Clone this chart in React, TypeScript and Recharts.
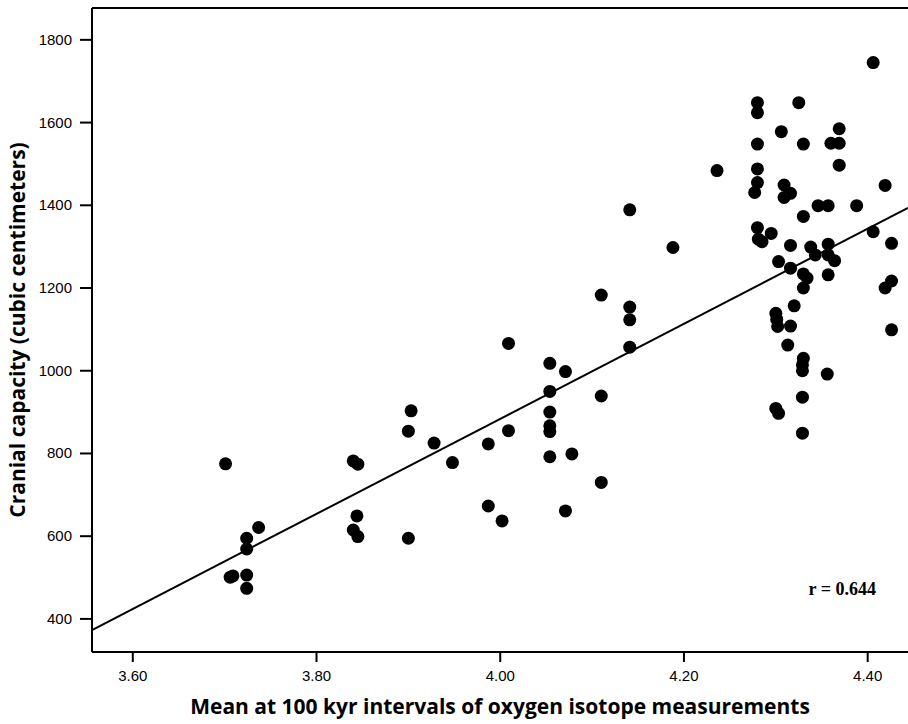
import React from "react";
import {
  ScatterChart,
  Scatter,
  XAxis,
  YAxis,
  ReferenceLine,
} from "recharts";

// mean oxygen isotope value (x) and cranial capacity (y)
const isotope = [
  3.701, 3.706, 3.709, 3.724, 3.724, 3.724, 3.724, 3.737, 3.84, 3.845,
  3.844, 3.84, 3.845, 3.9, 3.903, 3.9, 3.928, 3.948, 3.987, 3.987,
  4.002, 4.009, 4.009, 4.054, 4.054, 4.054, 4.054, 4.054, 4.054, 4.071,
  4.071, 4.078, 4.11, 4.11, 4.11, 4.141, 4.141, 4.141, 4.141, 4.188,
  4.236,
  4.28, 4.28, 4.28, 4.28, 4.28, 4.277, 4.28, 4.281, 4.285, 4.295,
  4.3, 4.301, 4.302, 4.3, 4.303, 4.303, 4.306, 4.309, 4.309, 4.313,
  4.316, 4.316, 4.316, 4.316, 4.32, 4.325, 4.33, 4.33, 4.33, 4.334,
  4.33, 4.33, 4.329, 4.329, 4.329, 4.329, 4.338, 4.343, 4.346, 4.356,
  4.357, 4.357, 4.357, 4.357, 4.36, 4.364, 4.369, 4.369, 4.369, 4.388,
  4.406, 4.406, 4.419, 4.419, 4.426, 4.426, 4.426,
];

const capacity = [
  775, 501, 504, 595, 569, 506, 474, 621, 782, 774,
  649, 615, 599, 595, 903, 854, 825, 778, 823, 673,
  637, 1066, 855, 1018, 950, 900, 867, 853, 792, 998,
  661, 799, 1183, 939, 730, 1389, 1154, 1123, 1057, 1298,
  1484,
  1648, 1624, 1548, 1488, 1455, 1431, 1346, 1318, 1312, 1332,
  1139, 1124, 1107, 909, 897, 1264, 1578, 1449, 1419, 1062,
  1429, 1303, 1248, 1108, 1157, 1648, 1548, 1373, 1234, 1224,
  1200, 1030, 1014, 1000, 936, 849, 1299, 1280, 1399, 992,
  1399, 1306, 1280, 1232, 1550, 1266, 1585, 1550, 1497, 1399,
  1745, 1336, 1448, 1200, 1308, 1217, 1099,
];

// least-squares line, endpoints at the edges of the x range
const fitX = [3.5556, 4.4439];
const fitY = [373, 1394];

const xTicks = [3.6, 3.8, 4.0, 4.2, 4.4];
const yTicks = [400, 600, 800, 1000, 1200, 1400, 1600, 1800];

const points = isotope.map((x, i) => ({ x, y: capacity[i] }));
const fit = fitX.map((x, i) => ({ x, y: fitY[i] }));

const tickFamily = "'Liberation Sans', Arial, sans-serif";

const titleFont = {
  fill: "#000",
  fontSize: 21,
  fontWeight: 700,
  fontFamily: "'Open Sans', 'DejaVu Sans', sans-serif",
};

const Dot = (props: any) => (
  <circle cx={props.cx} cy={props.cy} r={6.5} fill="#000" />
);

// plain svg tick so the size and colour are exactly what we set
const XTick = (props: any) => (
  <text
    x={props.x}
    y={props.y}
    dy={13}
    textAnchor="middle"
    fill="#000"
    fontSize={15}
    fontFamily={tickFamily}
  >
    {Number(props.payload.value).toFixed(2)}
  </text>
);

const YTick = (props: any) => (
  <text
    x={props.x}
    y={props.y}
    dy={5}
    textAnchor="end"
    fill="#000"
    fontSize={15}
    fontFamily={tickFamily}
  >
    {props.payload.value}
  </text>
);

export default function App() {
  return (
    <div style={{ position: "relative", width: 908, height: 724, background: "#fff" }}>
      <style>{`body{margin:0}`}</style>
      <ScatterChart
        width={908}
        height={724}
        margin={{ top: 8, right: 0, bottom: 0, left: 0 }}
      >
        <XAxis
          type="number"
          dataKey="x"
          domain={[3.5556, 4.4439]}
          ticks={xTicks}
          allowDataOverflow
          height={72}
          tickSize={10}
          tickMargin={6}
          tick={XTick}
          axisLine={{ stroke: "#000", strokeWidth: 2 }}
          tickLine={{ stroke: "#000", strokeWidth: 2 }}
          label={{
            value: "Mean at 100 kyr intervals of oxygen isotope measurements",
            position: "center",
            dy: 19,
            ...titleFont,
          }}
        />
        <YAxis
          type="number"
          dataKey="y"
          domain={[320, 1877]}
          ticks={yTicks}
          allowDataOverflow
          width={92}
          tickSize={12}
          tickMargin={8}
          tick={YTick}
          axisLine={{ stroke: "#000", strokeWidth: 2 }}
          tickLine={{ stroke: "#000", strokeWidth: 2 }}
          label={{
            value: "Cranial capacity (cubic centimeters)",
            position: "center",
            angle: -90,
            dx: -28,
            ...titleFont,
          }}
        />
        <ReferenceLine y={1877} stroke="#000" strokeWidth={2} />
        <Scatter
          data={fit}
          line={{ stroke: "#000", strokeWidth: 2 }}
          shape={() => <g />}
          isAnimationActive={false}
        />
        <Scatter data={points} shape={Dot} isAnimationActive={false} />
      </ScatterChart>
      <div
        style={{
          position: "absolute",
          left: 760,
          top: 577,
          width: 116,
          textAlign: "right",
          fontFamily: "'Liberation Serif', 'Times New Roman', serif",
          fontWeight: 700,
          fontSize: 18,
          lineHeight: "24px",
          color: "#000",
        }}
      >
        r = 0.644
      </div>
    </div>
  );
}
